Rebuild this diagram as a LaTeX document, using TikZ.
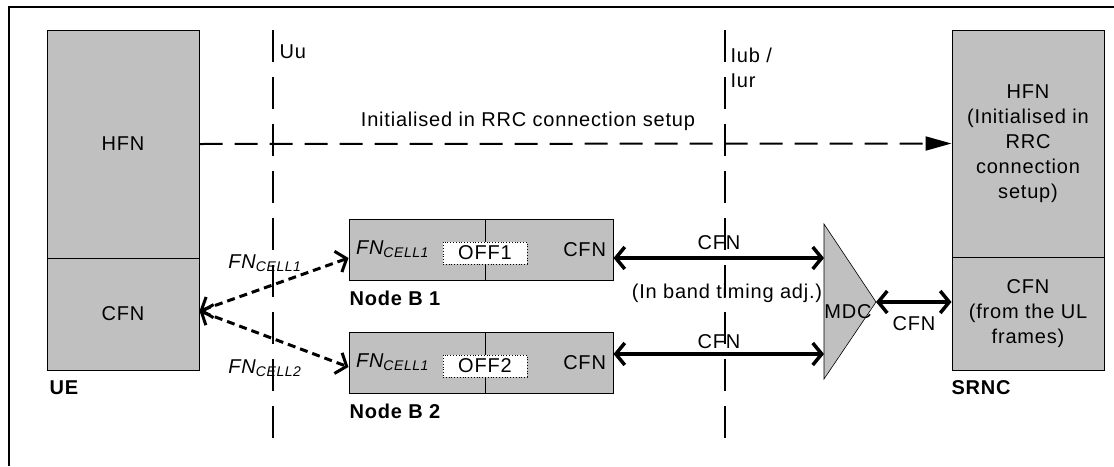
\documentclass[tikz,border=0pt]{standalone}
\usepackage{fontspec}
\setmainfont{Liberation Sans}[LetterSpace=4]
\usetikzlibrary{arrows.meta}
\definecolor{boxgray}{RGB}{192,192,192}
\begin{document}
\begin{tikzpicture}[x=1pt,y=-1pt,font=\fontsize{20}{25}\selectfont,
  blk/.style={draw,fill=boxgray,line width=1pt,inner sep=0pt},
  offbox/.style={draw,dotted,fill=white,line width=0.8pt,minimum width=84pt,minimum height=22pt,inner sep=0pt},
  ttl/.style={font=\fontsize{20}{25}\selectfont\bfseries},
  iface/.style={line width=2pt,dash pattern=on 32pt off 15pt},
  hfnarr/.style={line width=2pt,dash pattern=on 23pt off 12pt,-{Triangle[length=26pt,width=14pt]}},
  cfnarr/.style={line width=3.5pt,{Straight Barb[length=9pt,width=22pt]}-{Straight Barb[length=9pt,width=22pt]}},
  fnarr/.style={line width=3pt,dash pattern=on 8pt off 5pt,{Straight Barb[length=9pt,width=22pt]}-{Straight Barb[length=9pt,width=22pt]}}]
\useasboundingbox (0,0) rectangle (1114,466);
\draw[line width=2pt] (9,466) -- (9,7) -- (1114,7);

\coordinate (uutop) at (273,30);
\coordinate (uubot) at (273,445);
\coordinate (iubtop) at (725,30);
\coordinate (iubbot) at (725,445);
\draw[iface] (uutop) -- (uubot);
\draw[iface] (iubtop) -- (iubbot);
\node[anchor=west] (uulbl) at (276,52) {Uu};
\node[anchor=west,align=left] (iublbl) at (727,67.5) {Iub /\\Iur};

\node[blk,minimum width=152pt,minimum height=228pt] (uehfn) at (123,144) {HFN};
\node[blk,minimum width=152pt,minimum height=112pt] (uecfn) at (123,314) {CFN};
\node[ttl,anchor=west] (uelbl) at (46,388) {UE};

\node[blk,minimum width=152pt,minimum height=227pt,align=center] (srnchfn) at (1028,143.5) {HFN\\(Initialised in\\RRC\\connection\\setup)};
\node[blk,minimum width=152pt,minimum height=113pt,align=center] (srnccfn) at (1028,313.5) {CFN\\(from the UL\\frames)};
\node[ttl,anchor=west] (srnclbl) at (948,388) {SRNC};

\draw[hfnarr] (uehfn.east) -- (srnchfn.west);
\node (initlbl) at (528,121) {Initialised in RRC connection setup};

\node[blk,minimum width=136pt,minimum height=61pt] (nb1l) at (417,249.5) {};
\node[blk,minimum width=128pt,minimum height=61pt] (nb1r) at (549,249.5) {};
\node[anchor=west] (fn1) at ([xshift=4pt]nb1l.west) {{\itshape FN\textsubscript{CELL1}}};
\node[anchor=east] (cfn1) at ([xshift=-4pt]nb1r.east) {CFN};
\node[offbox] (off1) at (485,253) {OFF1};
\node[ttl,anchor=west] (nb1lbl) at (346,298) {Node B 1};

\node[blk,minimum width=136pt,minimum height=61pt] (nb2l) at (417,362.5) {};
\node[blk,minimum width=128pt,minimum height=61pt] (nb2r) at (549,362.5) {};
\node[anchor=west] (fn2) at ([xshift=4pt]nb2l.west) {{\itshape FN\textsubscript{CELL1}}};
\node[anchor=east] (cfn2) at ([xshift=-4pt]nb2r.east) {CFN};
\node[offbox] (off2) at (485,366) {OFF2};
\node[ttl,anchor=west] (nb2lbl) at (346,411) {Node B 2};

\coordinate (mdctop) at (824,224);
\coordinate (mdcbot) at (824,379);
\coordinate (mdctip) at (876,302);
\coordinate (mdcin1) at (824,258);
\coordinate (mdcin2) at (824,354);
\draw[fill=boxgray,line width=0.6pt] (mdctop) -- (mdctip) -- (mdcbot) -- cycle;
\node (mdclbl) at (848,312) {MDC};

\draw[cfnarr] (nb1r.east |- mdcin1) -- (mdcin1);
\draw[cfnarr] (nb2r.east |- mdcin2) -- (mdcin2);
\draw[cfnarr] (mdctip) -- (mdctip -| srnccfn.west);
\node (cfnlbl1) at (719,243) {CFN};
\node (cfnlbl2) at (719,342) {CFN};
\node (adjlbl) at (727,293) {(In band timing adj.)};
\node (cfnlbl3) at (914,324) {CFN};

\draw[fnarr] ([yshift=3pt]uecfn.east) -- ([yshift=-8.5pt]nb1l.west);
\draw[fnarr] ([yshift=3pt]uecfn.east) -- ([yshift=-4.5pt]nb2l.west);
\node (fnc1) at (265,263) {{\itshape FN\textsubscript{CELL1}}};
\node (fnc2) at (265,368) {{\itshape FN\textsubscript{CELL2}}};
\end{tikzpicture}
\end{document}
